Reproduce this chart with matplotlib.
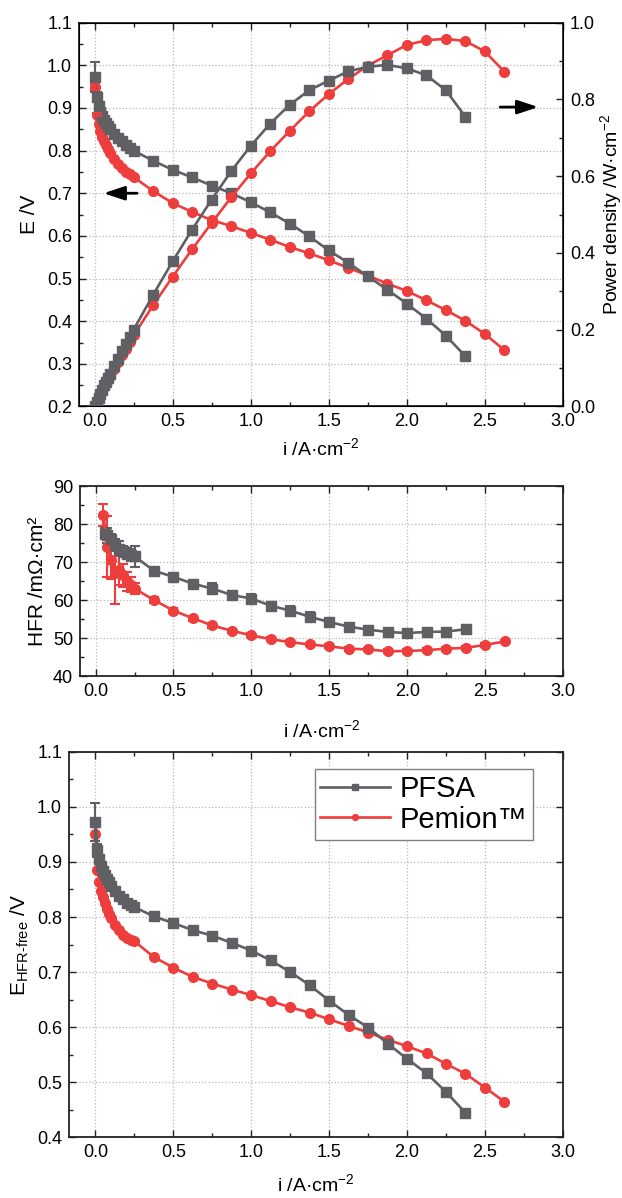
import matplotlib.pyplot as plt
from matplotlib.ticker import MultipleLocator

plt.rcParams['font.family'] = ['Liberation Sans', 'DejaVu Sans']
plt.rcParams['mathtext.fontset'] = 'custom'
plt.rcParams['mathtext.rm'] = 'Liberation Sans'
plt.rcParams['mathtext.it'] = 'Liberation Sans:italic'
plt.rcParams['mathtext.bf'] = 'Liberation Sans:bold'

# current density steps (A/cm2)
i_pfsa = [0.0, 0.0125, 0.025, 0.0375, 0.05, 0.0625, 0.075, 0.0875, 0.1, 0.125,
          0.15, 0.175, 0.2, 0.225, 0.25, 0.375, 0.5, 0.625, 0.75, 0.875, 1.0,
          1.125, 1.25, 1.375, 1.5, 1.625, 1.75, 1.875, 2.0, 2.125, 2.25, 2.375]
i_pemion = i_pfsa + [2.5, 2.625]

# cell voltage (V)
E_pfsa = [0.973, 0.925, 0.905, 0.890, 0.880, 0.872, 0.864, 0.857, 0.851, 0.840,
          0.830, 0.822, 0.814, 0.807, 0.800, 0.776, 0.755, 0.737, 0.718, 0.700,
          0.679, 0.655, 0.629, 0.599, 0.566, 0.537, 0.505, 0.474, 0.441, 0.406,
          0.366, 0.318]
E_pemion = [0.949, 0.884, 0.862, 0.846, 0.833, 0.822, 0.812, 0.803, 0.795, 0.781,
            0.769, 0.759, 0.750, 0.744, 0.738, 0.705, 0.677, 0.656, 0.637, 0.623,
            0.607, 0.591, 0.574, 0.559, 0.543, 0.525, 0.507, 0.488, 0.471, 0.449,
            0.426, 0.401, 0.370, 0.332]
E_err_pfsa = [0.035, 0.012]
E_err_pemion = [0.006, 0.004]

# power density (W/cm2)
P_pfsa = [0.0, 0.012, 0.023, 0.033, 0.044, 0.055, 0.065, 0.075, 0.085, 0.105,
          0.125, 0.144, 0.163, 0.182, 0.200, 0.291, 0.378, 0.461, 0.539, 0.613,
          0.679, 0.737, 0.786, 0.824, 0.849, 0.873, 0.885, 0.890, 0.881, 0.863,
          0.824, 0.755]
P_pemion = [0.0, 0.011, 0.022, 0.032, 0.042, 0.051, 0.061, 0.070, 0.080, 0.098,
            0.115, 0.133, 0.150, 0.167, 0.185, 0.264, 0.338, 0.410, 0.478, 0.545,
            0.607, 0.665, 0.718, 0.769, 0.814, 0.853, 0.888, 0.915, 0.942, 0.954,
            0.958, 0.952, 0.925, 0.872]

# high frequency resistance (mOhm cm2)
i_hfr_pfsa = [0.0625, 0.075, 0.1, 0.125, 0.15, 0.175, 0.2, 0.225, 0.25, 0.375,
              0.5, 0.625, 0.75, 0.875, 1.0, 1.125, 1.25, 1.375, 1.5, 1.625,
              1.75, 1.875, 2.0, 2.125, 2.25, 2.375]
hfr_pfsa = [77.5, 77.0, 76.0, 74.5, 73.5, 72.8, 72.2, 71.8, 71.5, 67.7,
            66.1, 64.3, 63.0, 61.3, 60.4, 58.5, 57.2, 55.6, 54.2, 53.0,
            52.2, 51.6, 51.3, 51.6, 51.7, 52.3]
hfr_err_pfsa = [1.5, 2.0, 1.5, 1.5, 2.0, 1.5, 1.5, 1.5, 2.8, 0.8,
                0.9, 0.9, 1.4, 1.0, 1.3, 0.9, 1.1, 1.2, 0.8, 1.0,
                1.0, 0.7, 1.1, 1.0, 1.0, 1.2]
i_hfr_pemion = [0.05, 0.075, 0.1, 0.125, 0.15, 0.175, 0.2, 0.225, 0.25, 0.375,
                0.5, 0.625, 0.75, 0.875, 1.0, 1.125, 1.25, 1.375, 1.5, 1.625,
                1.75, 1.875, 2.0, 2.125, 2.25, 2.375, 2.5, 2.625]
hfr_pemion = [82.4, 74.0, 70.5, 67.0, 68.0, 66.5, 65.0, 64.0, 63.0, 60.0,
              57.2, 55.2, 53.3, 51.9, 50.7, 49.7, 48.9, 48.3, 47.8, 47.2,
              47.0, 46.5, 46.6, 46.8, 47.2, 47.4, 48.2, 49.1]
hfr_err_pemion = [3.0, 8.0, 5.0, 8.0, 4.0, 3.0, 2.5, 2.0, 1.5, 0.7,
                  0.6, 0.6, 0.6, 0.6, 0.5, 0.5, 0.5, 0.5, 0.5, 0.5,
                  0.5, 0.5, 0.5, 0.5, 0.5, 0.5, 0.5, 0.5]

# HFR-free voltage (V)
Ef_pfsa = [0.973, 0.921, 0.905, 0.893, 0.884, 0.876, 0.869, 0.863, 0.857, 0.847,
           0.839, 0.832, 0.826, 0.822, 0.818, 0.801, 0.789, 0.776, 0.766, 0.753,
           0.739, 0.721, 0.700, 0.676, 0.648, 0.622, 0.599, 0.570, 0.542, 0.516,
           0.482, 0.444]
Ef_pemion = [0.950, 0.886, 0.864, 0.848, 0.836, 0.825, 0.815, 0.806, 0.798, 0.786,
             0.776, 0.768, 0.762, 0.759, 0.756, 0.727, 0.708, 0.691, 0.679, 0.668,
             0.658, 0.647, 0.636, 0.626, 0.614, 0.602, 0.590, 0.577, 0.565, 0.552,
             0.533, 0.515, 0.490, 0.464]

gray = '#5f5f64'
red = '#ee3d3d'
xlab = 'i /A·cm$^{-2}$'


def style(ax, ymaj, ymin):
    ax.xaxis.set_major_locator(MultipleLocator(0.5))
    ax.xaxis.set_minor_locator(MultipleLocator(0.25))
    ax.yaxis.set_major_locator(MultipleLocator(ymaj))
    ax.yaxis.set_minor_locator(MultipleLocator(ymin))
    ax.tick_params(which='both', direction='in', top=True, labelsize=13,
                   width=1, color='#222222', pad=5)
    ax.tick_params(which='major', length=5)
    ax.tick_params(which='minor', length=3)
    ax.grid(True, which='major', ls=':', color='#b8b8b8', lw=0.9)
    for s in ax.spines.values():
        s.set_linewidth(1.3)
        s.set_color('#222222')


fig = plt.figure(figsize=(6.22, 11.98), dpi=100)
ax1 = fig.add_axes([0.127, 0.6607, 0.778, 0.3204])
ax2 = fig.add_axes([0.1286, 0.4357, 0.7765, 0.1586])
ax3 = fig.add_axes([0.1109, 0.0509, 0.794, 0.3214])

kw = dict(lw=1.9, ms=7)
ekw = dict(elinewidth=1.5, capsize=3.5, capthick=1.5)

# polarisation + power density
style(ax1, 0.1, 0.05)
ax1.tick_params(right=False)
ax1.plot(i_pemion, E_pemion, color=red, marker='o', **kw)
ax1.plot(i_pfsa, E_pfsa, color=gray, marker='s', **kw)
ax1.errorbar(i_pfsa[:2], E_pfsa[:2], yerr=E_err_pfsa, fmt='none', ecolor=gray, **ekw)
ax1.errorbar(i_pemion[:2], E_pemion[:2], yerr=E_err_pemion, fmt='none', ecolor=red, **ekw)
ax1.set_xlim(-0.1, 3.0)
ax1.set_ylim(0.2, 1.1)
ax1.set_xlabel(xlab, fontsize=14, labelpad=5)
ax1.set_ylabel('E /V', fontsize=15, labelpad=6)

ax1r = ax1.twinx()
ax1r.plot(i_pemion, P_pemion, color=red, marker='o', **kw)
ax1r.plot(i_pfsa, P_pfsa, color=gray, marker='s', **kw)
ax1r.set_ylim(0, 1.0)
ax1r.yaxis.set_major_locator(MultipleLocator(0.2))
ax1r.yaxis.set_minor_locator(MultipleLocator(0.1))
ax1r.tick_params(which='both', direction='in', labelsize=13, width=1,
                 color='#222222', pad=5)
ax1r.tick_params(which='major', length=5)
ax1r.tick_params(which='minor', length=3)
ax1r.set_ylabel('Power density /W·cm$^{-2}$', fontsize=14, labelpad=2)

ax1.annotate('', xy=(0.04, 0.70), xytext=(0.29, 0.70),
             arrowprops=dict(arrowstyle='-|>,head_length=0.9,head_width=0.3',
                             color='black', lw=2, mutation_scale=14))
ax1r.annotate('', xy=(2.86, 0.78), xytext=(2.58, 0.78),
              arrowprops=dict(arrowstyle='-|>,head_length=0.9,head_width=0.3',
                              color='black', lw=2, mutation_scale=14))

# HFR
style(ax2, 10, 5)
ax2.tick_params(right=True)
ax2.errorbar(i_hfr_pemion, hfr_pemion, yerr=hfr_err_pemion, color=red, marker='o',
             **ekw, **kw)
ax2.errorbar(i_hfr_pfsa, hfr_pfsa, yerr=hfr_err_pfsa, color=gray, marker='s',
             **ekw, **kw)
ax2.set_xlim(-0.1, 3.0)
ax2.set_ylim(40, 90)
ax2.set_xlabel(xlab, fontsize=14, labelpad=14)
ax2.set_ylabel('HFR /mΩ·cm²', fontsize=15, labelpad=4)

# HFR-free voltage
style(ax3, 0.1, 0.05)
ax3.tick_params(right=True)
ax3.plot(i_pemion, Ef_pemion, color=red, marker='o', label='Pemion™', **kw)
ax3.plot(i_pfsa, Ef_pfsa, color=gray, marker='s', label='PFSA', **kw)
ax3.errorbar(i_pfsa[:2], Ef_pfsa[:2], yerr=E_err_pfsa, fmt='none', ecolor=gray, **ekw)
ax3.set_xlim(-0.17, 3.0)
ax3.set_ylim(0.4, 1.1)
ax3.set_xlabel(xlab, fontsize=14, labelpad=9)
ax3.set_ylabel('E$_{\\mathregular{HFR\\text{-}free}}$ /V', fontsize=15, labelpad=4)

h, l = ax3.get_legend_handles_labels()
leg = ax3.legend(h[::-1], l[::-1], loc='upper right', bbox_to_anchor=(0.939, 0.956),
                 borderaxespad=0, fontsize=21, fancybox=False, framealpha=1,
                 edgecolor='#808080', handlelength=2.4, handletextpad=0.3,
                 labelspacing=0.1, borderpad=0.2, markerscale=0.6)
leg.get_frame().set_linewidth(1.0)

fig.savefig('out.png', dpi=100)
